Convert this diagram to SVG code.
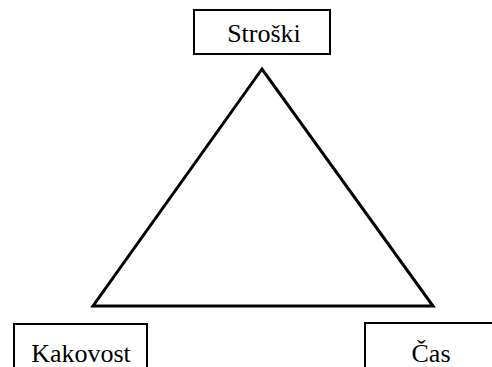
<svg xmlns="http://www.w3.org/2000/svg" width="492" height="367" viewBox="0 0 492 367">
<style>
.box{fill:#fff;stroke:#000;stroke-width:2}
.lbl{font-family:"Liberation Serif","Times New Roman",serif;font-size:26px;fill:#000;text-anchor:middle}
.edge{fill:none;stroke:#000;stroke-width:3;stroke-linejoin:miter}
</style>
<rect width="492" height="367" fill="#fff"/>
<g id="connectors">
<polygon class="edge" points="262,69 93,306 433,306"/>
</g>
<g id="stroski">
<rect class="box" x="194" y="10" width="136" height="44"/>
<text class="lbl" x="264" y="42">Stroški</text>
</g>
<g id="kakovost">
<rect class="box" x="14" y="324" width="133" height="50"/>
<text class="lbl" x="81" y="362">Kakovost</text>
</g>
<g id="cas">
<rect class="box" x="365" y="323" width="135" height="50"/>
<text class="lbl" x="431" y="362">Čas</text>
</g>
</svg>
